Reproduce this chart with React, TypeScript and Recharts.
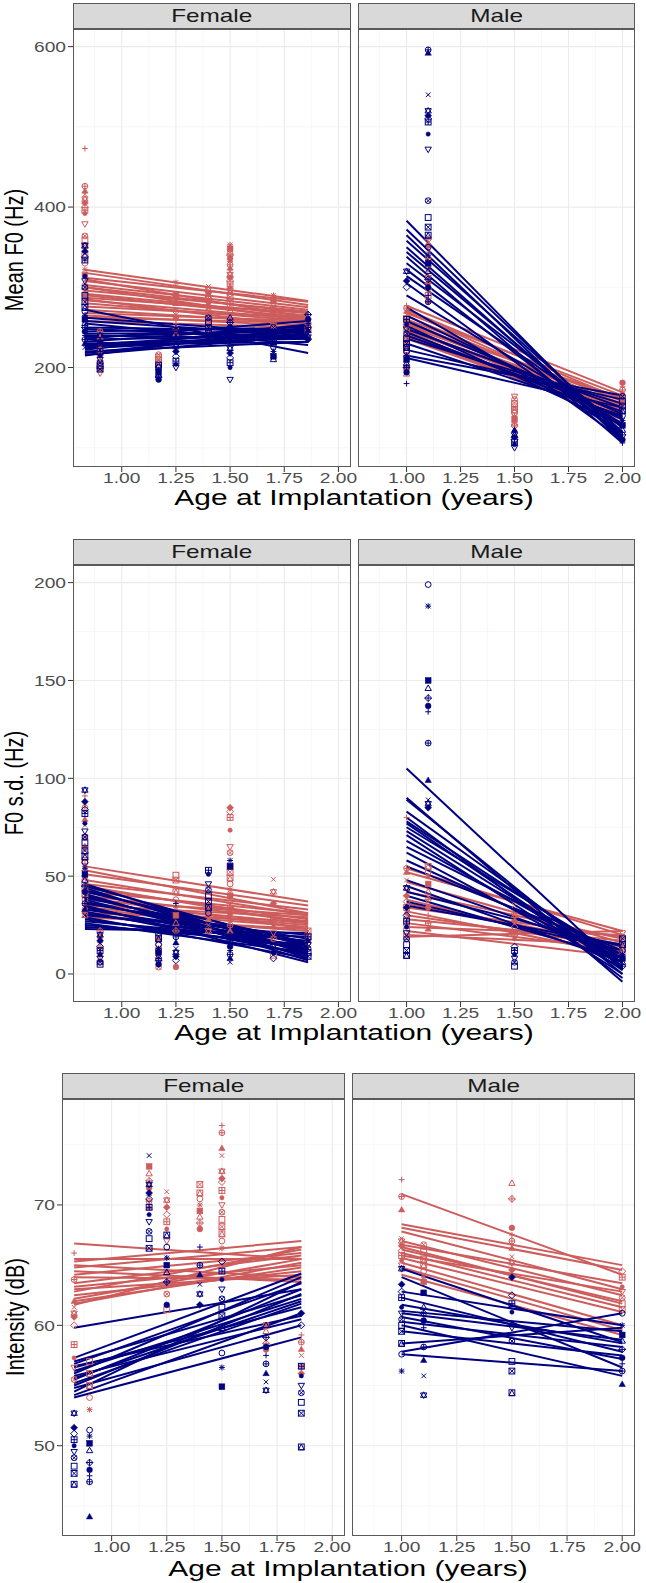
import React from 'react';
import {CartesianGrid, ReferenceLine, Scatter, ScatterChart, XAxis, YAxis} from 'recharts';

const RED = '#CD5C5C';
const NAVY = '#000080';
const FONT = '"Liberation Sans", Arial, Helvetica, sans-serif';
// the source figure is stretched sideways, so text is widened to match
const X_STRETCH = 1.28;

const ageTicks = [1, 1.25, 1.5, 1.75, 2];
const ageMinor = [0.875, 1.125, 1.375, 1.625, 1.875];
const ageDomain = [0.775, 2.058];
const femaleSpan = [0.83, 1.86];
const maleSpan = [1.0, 2.0];

// ---- Mean F0 (Hz) ----
const meanF0Ticks = [200, 400, 600];
const meanF0Minor = [100, 300, 500];
const meanF0Domain = [76, 622];

const meanF0FemaleRed: [number, number[]][] = [
  [0.83, [473, 426, 420, 416, 410, 405, 400, 396, 392, 379, 364, 359, 352, 340, 330, 322, 315, 305, 298, 290, 283]],
  [0.9, [245, 238, 230, 222, 215, 208, 202, 197, 193]],
  [1.17, [216, 213, 210, 207, 205]],
  [1.25, [306, 290, 280, 270, 262, 255, 248, 242]],
  [1.4, [301, 297, 293, 289, 285, 280, 275, 270, 265, 258, 252, 248]],
  [1.5, [353, 348, 344, 340, 336, 332, 328, 324, 320, 316, 312, 308, 304, 300, 296, 292, 288, 282, 275, 268]],
  [1.7, [290, 284, 278, 272, 266, 260, 255, 251]],
  [1.86, [262, 258, 254, 250, 247]],
];
const meanF0FemaleBlue: [number, number[]][] = [
  [0.83, [352, 345, 338, 334, 314, 308, 300, 290, 282, 275, 270, 265, 260, 255, 250, 245, 240, 235, 230, 225]],
  [0.9, [240, 232, 226, 220, 215, 210, 206, 202, 198]],
  [1.17, [203, 200, 197, 194, 191, 188, 185]],
  [1.25, [250, 245, 238, 232, 226, 220, 214, 208, 204, 200]],
  [1.4, [262, 256, 250, 245, 240, 236, 232]],
  [1.5, [262, 256, 250, 245, 240, 235, 230, 224, 218, 212, 206, 200, 185]],
  [1.7, [250, 244, 238, 232, 226, 220, 214, 210]],
  [1.86, [266, 260, 255, 250, 246, 242, 238, 235]],
];
const meanF0FemaleRedFits = [
  [322, 283], [318, 278], [312, 282], [308, 275], [303, 272], [300, 268], [296, 270], [292, 265],
  [290, 262], [287, 268], [284, 260], [280, 258], [276, 262], [272, 255], [268, 258], [265, 252],
  [262, 256], [258, 250], [300, 258], [285, 250], [310, 262],
];
const meanF0FemaleBlueFits = [
  [272, 218], [262, 242], [258, 240], [250, 246], [248, 238], [245, 250], [242, 244], [240, 236],
  [238, 248], [235, 240], [232, 252], [230, 236], [228, 246], [226, 242], [224, 238], [222, 254],
  [220, 232], [218, 246], [216, 240], [215, 250], [255, 228], [236, 258], [228, 232],
];
const meanF0MaleRed: [number, number[]][] = [
  [1.0, [277, 274, 270, 266, 262, 258, 254, 250, 246, 242, 238, 234, 228, 222, 215, 208, 200, 192]],
  [1.1, [360, 352, 344, 336, 328, 320, 312, 305, 298, 290, 282]],
  [1.5, [164, 160, 155, 151, 147, 143, 139, 135, 131, 127]],
  [2.0, [181, 176, 172, 168, 165, 162, 159, 156, 152]],
];
const meanF0MaleBlue: [number, number[]][] = [
  [1.0, [320, 308, 300, 260, 254, 248, 242, 236, 230, 225, 220, 215, 210, 205, 200, 194, 180]],
  [1.1, [596, 592, 540, 520, 514, 510, 506, 491, 472, 408, 387, 375, 365, 350, 340, 330, 320, 310, 300, 290, 282]],
  [1.5, [122, 119, 116, 113, 110, 107, 104, 100]],
  [2.0, [164, 158, 152, 146, 140, 134, 128, 122, 116, 110, 106]],
];
const meanF0MaleRedFits = [
  [277, 169], [272, 160], [268, 165], [264, 152], [260, 158], [256, 148], [252, 155], [250, 142],
  [246, 150], [244, 138], [242, 146], [240, 135], [238, 143], [236, 140], [254, 162], [258, 145],
  [248, 152], [270, 150],
];
const meanF0MaleBlueFits = [
  [383, 110], [372, 115], [365, 108], [358, 120], [350, 112], [344, 118], [338, 106], [330, 125],
  [322, 115], [314, 128], [305, 110], [290, 130], [275, 120], [265, 135], [258, 142], [252, 128],
  [248, 150], [244, 138], [240, 145], [236, 155], [230, 140], [222, 160], [215, 165], [212, 150],
];

// ---- F0 s.d. (Hz) ----
const sdTicks = [0, 50, 100, 150, 200];
const sdMinor = [25, 75, 125, 175];
const sdDomain = [-14.3, 209];

const sdFemaleRed: [number, number[]][] = [
  [0.83, [91, 85, 79, 76, 70, 65, 62, 58, 55, 52, 50, 47, 44, 41, 38, 35, 32, 30]],
  [0.9, [22, 19, 16, 13, 10, 8, 6]],
  [1.17, [18, 15, 12, 9, 6, 3.5]],
  [1.25, [50.5, 48, 42, 38, 34, 30, 26, 22, 3.6]],
  [1.4, [36, 32, 28, 25, 22]],
  [1.5, [85, 83, 80, 73.5, 65, 62, 55, 52, 49, 46, 43, 40, 37, 34, 31, 28, 25, 22]],
  [1.7, [48.4, 42, 36, 30, 27, 24, 21, 18, 9.6]],
  [1.86, [22, 19, 16]],
];
const sdFemaleBlue: [number, number[]][] = [
  [0.83, [94, 88, 84, 82, 77, 73, 70, 67, 63, 60, 57, 54, 51, 48, 45, 42, 39, 36, 33, 30]],
  [0.9, [20, 17, 14, 12, 10, 8, 6, 5]],
  [1.17, [21, 18, 15, 13, 11, 9, 7, 5]],
  [1.25, [36, 19, 16, 13, 11, 9, 7]],
  [1.4, [53, 51, 46, 43, 40, 37, 34, 31]],
  [1.5, [58, 55, 20, 17, 14, 12, 10, 8, 6]],
  [1.7, [14, 11, 8]],
  [1.86, [19, 17, 15, 13, 11, 9]],
];
const sdFemaleRedFits = [
  [55, 37], [53, 31], [51, 35], [48, 30], [46, 33], [44, 28], [42, 31], [40, 27], [38, 30],
  [36, 26], [35, 29], [33, 24], [31, 27], [30, 22], [34, 25], [39, 23], [45, 26], [29, 23],
];
const sdFemaleBlueFits = [
  [46, 10], [45, 14], [44, 8], [43, 12], [42, 16], [41, 7], [40, 11], [39, 15], [38, 9], [37, 13],
  [36, 18], [35, 6], [34, 12], [33, 16], [32, 10], [31, 14], [30, 20], [29, 8], [28, 13], [27, 17],
  [26, 11], [25, 15], [24, 19], [23, 21],
];
const sdMaleRed: [number, number[]][] = [
  [1.0, [80, 54, 52, 48, 44, 40, 37, 34, 31, 28, 25, 22, 19]],
  [1.1, [55, 52, 50, 46, 42, 38, 34, 30, 26, 23]],
  [1.5, [35, 30, 27, 24, 21, 18]],
  [2.0, [21, 19, 17, 15, 13, 11]],
];
const sdMaleBlue: [number, number[]][] = [
  [1.0, [44, 34, 30, 27, 24, 21, 18, 15, 12, 9.5]],
  [1.1, [199, 188, 150, 146, 141, 137, 134, 118, 99, 89, 87, 85]],
  [1.5, [14, 12, 10, 8, 6, 4]],
  [2.0, [18, 15, 12, 10, 8, 6, 4]],
];
const sdMaleRedFits = [
  [54, 20], [52, 22], [47, 16], [42, 18], [38, 12], [36, 15], [34, 19], [32, 10], [30, 14],
  [28, 17], [26, 12], [24, 20], [22, 9], [20, 15], [19, 22],
];
const sdMaleBlueFits = [
  [105, 2], [90, -4], [89, 0], [83, 4], [80, -2], [78, 6], [77, 2], [75, 8], [73, 4], [71, 0],
  [68, 6], [65, 10], [62, 3], [58, 8], [55, 12], [48, 10], [45, 6], [42, 14], [40, 8], [37, 12],
  [35, 15],
];

// ---- Intensity (dB) ----
const dbTicks = [50, 60, 70];
const dbMinor = [45, 55, 65, 75];
const dbDomain = [42.5, 78.8];

const dbFemaleRed: [number, number[]][] = [
  [0.83, [66, 63.8, 62, 61.5, 61, 60.7, 60, 58.4, 57.3, 56.5, 55.5]],
  [0.9, [57, 56, 55, 54, 53]],
  [1.17, [73.2, 72.6, 72, 71.4, 70.8, 70.3, 69.8]],
  [1.25, [71.1, 70.4, 69.8, 69.2, 68.6, 68, 67, 62.6, 61.3]],
  [1.4, [71.7, 71, 70.5, 70, 69.5, 69, 68.5, 68]],
  [1.5, [76.6, 76, 74.7, 74.1, 72.8, 72.2, 71.9, 71.2, 70.6, 70, 69.4, 68.8, 68.2, 67.6, 67, 66.4]],
  [1.7, [60, 59.5, 58.5, 58]],
  [1.86, [59.2, 58.6, 58, 57.5, 56.6, 56]],
];
const dbFemaleBlue: [number, number[]][] = [
  [0.83, [52.7, 51.5, 51, 50.5, 50, 49.5, 49, 48.3, 47.7, 46.8]],
  [0.9, [51.3, 50.8, 50.2, 49.6, 48.6, 48, 47.5, 47, 44.1]],
  [1.17, [74.1, 71.7, 71, 70.5, 69.8, 69.2, 68.6, 67.8, 67.2, 66.4]],
  [1.25, [67.5, 66.5, 65.6, 65, 64.4, 63.6, 61.7]],
  [1.4, [66.5, 65, 64.2, 63.4, 62.6, 61.7]],
  [1.5, [65.3, 64.5, 63.8, 63, 62.2, 61.5, 60.8, 59.8, 57.7, 56.5, 54.9]],
  [1.7, [60, 59, 58.2, 57.5, 56.8, 56, 55.3, 54.6]],
  [1.86, [61, 60, 56.6, 55.8, 55, 54.4, 53.6, 52.7, 49.9]],
];
const dbFemaleRedFits = [
  [66.8, 65.5], [65.3, 67], [65, 64], [64.8, 66.5], [64.5, 63.6], [64.2, 66], [63.5, 65.8],
  [63.2, 65], [62.8, 66.3], [62.5, 64.5], [62.2, 65.5], [62, 64.8], [61.7, 66.5], [65.5, 65.5],
  [63, 64.2], [61.8, 65.2], [64, 63.8],
];
const dbFemaleBlueFits = [
  [59.8, 63], [57.3, 64.3], [57, 62.5], [56.8, 63.5], [56.5, 61.5], [56.2, 62.2], [56, 64],
  [55.8, 60.5], [55.5, 63], [55.2, 61.8], [55, 62.6], [54.8, 60], [54.5, 63.6], [54.2, 61],
  [54, 59], [55.6, 62], [56.6, 60.8],
];
const dbMaleRed: [number, number[]][] = [
  [1.0, [72.1, 70.7, 69.6, 67.2, 67, 66.6, 66.2, 65.8, 65.4, 65]],
  [1.1, [66.7, 66.1, 65.5, 65, 64.5, 64, 63.6]],
  [1.5, [71.8, 70.5, 68.1, 67.5, 67, 66.4, 65.7, 65.2, 64.6]],
  [2.0, [64.5, 64, 63.2, 62.8, 62.3, 61.8, 61.3]],
];
const dbMaleBlue: [number, number[]][] = [
  [1.0, [64.7, 63.4, 62.8, 62.3, 61.5, 61, 60.5, 60, 59.5, 58.5, 57.6, 56.2]],
  [1.1, [62.7, 61.5, 61, 60.4, 59.8, 58.2, 57.1, 55.8, 54.2]],
  [1.5, [64, 62.5, 61.8, 61.1, 59.8, 58.7, 57, 56.2, 54.4]],
  [2.0, [61, 60, 59.2, 58.7, 58, 57.3, 56.8, 56.2, 55.1]],
];
const dbMaleRedFits = [
  [70.9, 64.2], [68.4, 65], [68.1, 64.6], [67.8, 63], [67, 62.5], [66.7, 63.5], [66.3, 62],
  [66, 61.5], [65.6, 61.1], [65.2, 60], [64.8, 59.6], [64.2, 59.2], [65.8, 62.8], [66.5, 61.8],
];
const dbMaleBlueFits = [
  [64.7, 58.6], [64, 56.5], [62.8, 60], [61.7, 58.5], [61.2, 59.5], [60.7, 57.2], [60.3, 58.2],
  [60, 55.8], [59.5, 57.5], [58.5, 59.8], [57.6, 56.2], [57.8, 61], [62.3, 57.8], [61, 58.8],
];

// flatten groups into points, giving each subject a ggplot-like shape code
function toPoints(groups: [number, number[]][], shift: number) {
  const out: {x: number; y: number; s: number}[] = [];
  let k = 0;
  groups.forEach(([age, vals]) => {
    vals.forEach(v => {
      out.push({x: age, y: v, s: (k * 7 + shift) % 20});
      k++;
    });
  });
  return out;
}

// ggplot shape glyphs
const Sym = ({cx, cy, s, color}: any) => {
  const r = 2.9;
  const sw = 1;
  const o = {fill: 'none', stroke: color, strokeWidth: sw};
  const f = {fill: color, stroke: color, strokeWidth: 0.5};
  const tri = (up: number) =>
    `${cx},${cy - up * r * 1.15} ${cx - r * 1.1},${cy + up * r * 0.75} ${cx + r * 1.1},${cy + up * r * 0.75}`;
  const dia = `${cx},${cy - r * 1.2} ${cx + r * 1.2},${cy} ${cx},${cy + r * 1.2} ${cx - r * 1.2},${cy}`;
  const plus = `M${cx - r},${cy}H${cx + r}M${cx},${cy - r}V${cy + r}`;
  const cross = `M${cx - r * 0.8},${cy - r * 0.8}L${cx + r * 0.8},${cy + r * 0.8}M${cx - r * 0.8},${cy + r * 0.8}L${cx + r * 0.8},${cy - r * 0.8}`;
  switch (s) {
    case 0: return <rect x={cx - r} y={cy - r} width={2 * r} height={2 * r} {...o} />;
    case 1: return <circle cx={cx} cy={cy} r={r} {...o} />;
    case 2: return <polygon points={tri(1)} {...o} />;
    case 3: return <path d={plus} {...o} />;
    case 4: return <path d={cross} {...o} />;
    case 5: return <polygon points={dia} {...o} />;
    case 6: return <polygon points={tri(-1)} {...o} />;
    case 7: return <g {...o}><rect x={cx - r} y={cy - r} width={2 * r} height={2 * r} /><path d={`M${cx - r},${cy - r}L${cx + r},${cy + r}M${cx - r},${cy + r}L${cx + r},${cy - r}`} /></g>;
    case 8: return <g {...o}><path d={plus} /><path d={cross} /></g>;
    case 9: return <g {...o}><polygon points={dia} /><path d={`M${cx - r * 1.2},${cy}H${cx + r * 1.2}M${cx},${cy - r * 1.2}V${cy + r * 1.2}`} /></g>;
    case 10: return <g {...o}><circle cx={cx} cy={cy} r={r} /><path d={plus} /></g>;
    case 11: return <g {...o}><polygon points={tri(1)} /><polygon points={tri(-1)} /></g>;
    case 12: return <g {...o}><rect x={cx - r} y={cy - r} width={2 * r} height={2 * r} /><path d={plus} /></g>;
    case 13: return <g {...o}><circle cx={cx} cy={cy} r={r} /><path d={cross} /></g>;
    case 14: return <g {...o}><rect x={cx - r} y={cy - r} width={2 * r} height={2 * r} /><polygon points={`${cx},${cy - r} ${cx - r},${cy + r} ${cx + r},${cy + r}`} /></g>;
    case 15: return <rect x={cx - r} y={cy - r} width={2 * r} height={2 * r} {...f} />;
    case 16: return <circle cx={cx} cy={cy} r={r} {...f} />;
    case 17: return <polygon points={tri(1)} {...f} />;
    case 18: return <polygon points={dia} {...f} />;
    default: return <circle cx={cx} cy={cy} r={r * 0.75} {...f} />;
  }
};

const YTick = ({x, y, payload}: any) => (
  <g transform={`translate(${x},${y}) scale(${X_STRETCH},1)`}>
    <text textAnchor="end" dy="0.36em" fontSize={15} fill="#4D4D4D" fontFamily={FONT}>
      {payload.value}
    </text>
  </g>
);

const XTick = ({x, y, payload}: any) => (
  <g transform={`translate(${x},${y}) scale(${X_STRETCH},1)`}>
    <text textAnchor="middle" dy="0.68em" fontSize={15} fill="#4D4D4D" fontFamily={FONT}>
      {Number(payload.value).toFixed(2)}
    </text>
  </g>
);

const STRIP_H = 26;
const X_AXIS_H = 30;
const Y_AXIS_W = 60;

type FacetProps = {
  label: string;
  left: number;
  top: number;
  width: number;
  height: number;
  showY: boolean;
  yDomain: number[];
  yTicks: number[];
  yMinor: number[];
  red: [number, number[]][];
  blue: [number, number[]][];
  redFits: number[][];
  blueFits: number[][];
  span: number[];
};

const Facet = ({label, left, top, width, height, showY, yDomain, yTicks, yMinor, red, blue, redFits, blueFits, span}: FacetProps) => {
  const yw = showY ? Y_AXIS_W : 0;
  const redPts = toPoints(red, 3);
  const bluePts = toPoints(blue, 11);
  const seg = (f: number[]) => [
    {x: span[0], y: f[0]},
    {x: span[1], y: f[1]},
  ];
  return (
    <>
      <div
        style={{
          position: 'absolute',
          left,
          top: top - STRIP_H,
          width,
          height: STRIP_H,
          boxSizing: 'border-box',
          background: '#D9D9D9',
          border: '1px solid #5A5A5A',
          display: 'flex',
          alignItems: 'center',
          justifyContent: 'center',
        }}>
        <span
          style={{
            fontFamily: FONT,
            fontSize: 19,
            color: '#1A1A1A',
            display: 'inline-block',
            transform: `scaleX(${X_STRETCH})`,
          }}>
          {label}
        </span>
      </div>
      <div style={{position: 'absolute', left: left - yw, top}}>
        <ScatterChart width={width + yw} height={height + X_AXIS_H} margin={{top: 0, right: 0, bottom: 0, left: 0}}>
          <CartesianGrid stroke="#F3F3F3" strokeWidth={0.7} horizontalValues={yMinor} verticalValues={ageMinor} />
          <CartesianGrid stroke="#EBEBEB" strokeWidth={1.1} horizontalValues={yTicks} verticalValues={ageTicks} />
          <XAxis
            type="number"
            dataKey="x"
            domain={ageDomain}
            ticks={ageTicks}
            allowDataOverflow
            height={X_AXIS_H}
            axisLine={false}
            tickSize={5}
            tickMargin={1}
            tickLine={{stroke: '#333333'}}
            tick={<XTick />}
          />
          <YAxis
            type="number"
            dataKey="y"
            domain={yDomain}
            ticks={yTicks}
            allowDataOverflow
            hide={!showY}
            width={yw}
            axisLine={false}
            tickSize={5}
            tickLine={{stroke: '#333333'}}
            tick={<YTick />}
          />
          <Scatter
            data={redPts}
            isAnimationActive={false}
            shape={(p: any) => <Sym cx={p.cx} cy={p.cy} s={p.payload.s} color={RED} />}
          />
          <Scatter
            data={bluePts}
            isAnimationActive={false}
            shape={(p: any) => <Sym cx={p.cx} cy={p.cy} s={p.payload.s} color={NAVY} />}
          />
          {redFits.map((f, i) => (
            <ReferenceLine key={`r${i}`} segment={seg(f)} stroke={RED} strokeWidth={2} ifOverflow="visible" />
          ))}
          {blueFits.map((f, i) => (
            <ReferenceLine key={`b${i}`} segment={seg(f)} stroke={NAVY} strokeWidth={2} ifOverflow="visible" />
          ))}
        </ScatterChart>
      </div>
      <div
        style={{
          position: 'absolute',
          left,
          top,
          width,
          height,
          boxSizing: 'border-box',
          border: '1px solid #5A5A5A',
          pointerEvents: 'none',
        }}
      />
    </>
  );
};

const YTitle = ({text, x, y}: {text: string; x: number; y: number}) => (
  <div
    style={{
      position: 'absolute',
      left: x - 100,
      top: y - 11,
      width: 200,
      height: 22,
      lineHeight: '22px',
      textAlign: 'center',
      fontFamily: FONT,
      fontSize: 20,
      color: '#000',
      transform: `rotate(-90deg) scaleY(${X_STRETCH})`,
      whiteSpace: 'nowrap',
    }}>
    {text}
  </div>
);

const XTitle = ({text, x, y}: {text: string; x: number; y: number}) => (
  <div
    style={{
      position: 'absolute',
      left: x - 250,
      top: y - 10,
      width: 500,
      height: 20,
      lineHeight: '20px',
      textAlign: 'center',
      fontFamily: FONT,
      fontSize: 22,
      color: '#000',
      transform: `scaleX(1.36)`,
      whiteSpace: 'nowrap',
    }}>
    {text}
  </div>
);

export default function App() {
  return (
    <div style={{position: 'absolute', left: 0, top: 0, width: 646, height: 1583, background: '#fff', overflow: 'hidden'}}>
      <style>{'.recharts-surface { overflow: visible; }'}</style>
      {/* Mean F0 */}
      <Facet label="Female" left={73} top={29} width={278} height={438} showY yDomain={meanF0Domain} yTicks={meanF0Ticks} yMinor={meanF0Minor}
        red={meanF0FemaleRed} blue={meanF0FemaleBlue} redFits={meanF0FemaleRedFits} blueFits={meanF0FemaleBlueFits} span={femaleSpan} />
      <Facet label="Male" left={358} top={29} width={277} height={438} showY={false} yDomain={meanF0Domain} yTicks={meanF0Ticks} yMinor={meanF0Minor}
        red={meanF0MaleRed} blue={meanF0MaleBlue} redFits={meanF0MaleRedFits} blueFits={meanF0MaleBlueFits} span={maleSpan} />
      <YTitle text="Mean F0 (Hz)" x={14} y={250} />
      <XTitle text="Age at Implantation (years)" x={354} y={498} />

      {/* F0 s.d. */}
      <Facet label="Female" left={73} top={565} width={278} height={437} showY yDomain={sdDomain} yTicks={sdTicks} yMinor={sdMinor}
        red={sdFemaleRed} blue={sdFemaleBlue} redFits={sdFemaleRedFits} blueFits={sdFemaleBlueFits} span={femaleSpan} />
      <Facet label="Male" left={358} top={565} width={277} height={437} showY={false} yDomain={sdDomain} yTicks={sdTicks} yMinor={sdMinor}
        red={sdMaleRed} blue={sdMaleBlue} redFits={sdMaleRedFits} blueFits={sdMaleBlueFits} span={maleSpan} />
      <YTitle text="F0 s.d. (Hz)" x={14} y={783} />
      <XTitle text="Age at Implantation (years)" x={354} y={1033} />

      {/* Intensity */}
      <Facet label="Female" left={62} top={1099} width={283} height={437} showY yDomain={dbDomain} yTicks={dbTicks} yMinor={dbMinor}
        red={dbFemaleRed} blue={dbFemaleBlue} redFits={dbFemaleRedFits} blueFits={dbFemaleBlueFits} span={femaleSpan} />
      <Facet label="Male" left={352} top={1099} width={283} height={437} showY={false} yDomain={dbDomain} yTicks={dbTicks} yMinor={dbMinor}
        red={dbMaleRed} blue={dbMaleBlue} redFits={dbMaleRedFits} blueFits={dbMaleBlueFits} span={maleSpan} />
      <YTitle text="Intensity (dB)" x={15} y={1317} />
      <XTitle text="Age at Implantation (years)" x={348} y={1569} />
    </div>
  );
}
